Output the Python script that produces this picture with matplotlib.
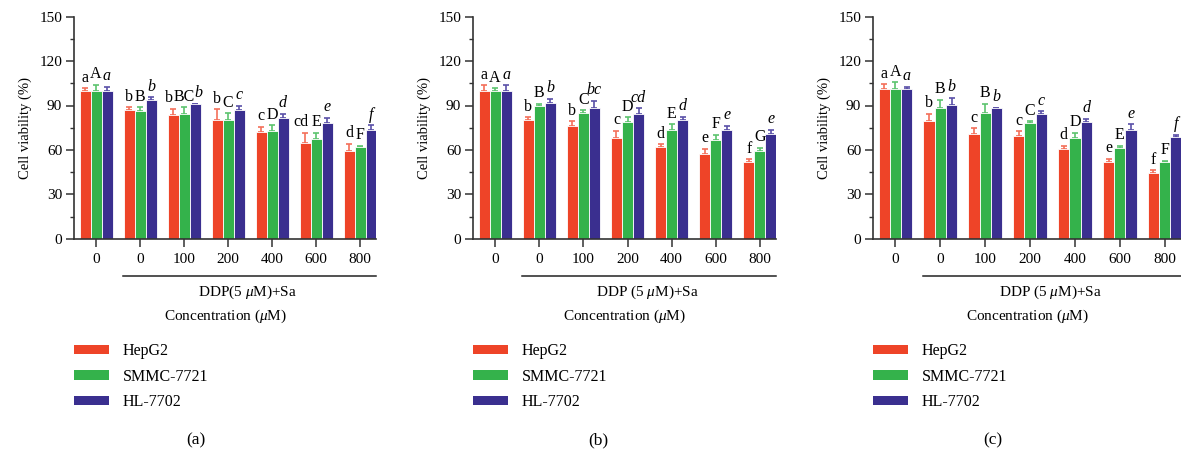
import numpy as np
import matplotlib.pyplot as plt
from matplotlib.patches import Patch
from matplotlib.ticker import MultipleLocator

plt.rcParams['font.family'] = ['Liberation Serif', 'DejaVu Serif']
plt.rcParams['mathtext.fontset'] = 'custom'
plt.rcParams['mathtext.it'] = 'Liberation Serif:italic'
plt.rcParams['mathtext.rm'] = 'Liberation Serif'

groups = ['0', '0', '100', '200', '400', '600', '800']
series = ['HepG2', 'SMMC-7721', 'HL-7702']
colors = ['#EE4428', '#34B24B', '#3A2F8F']
err_colors = ['#F4705A', '#5CC46E', '#5A50A8']

# panel (a)
a_mean = [
    [100, 87.0, 83.3, 80.4, 72.0, 64.6, 59.2],
    [100, 86.3, 84.2, 80.4, 72.7, 67.1, 61.7],
    [100, 93.7, 90.8, 87.0, 81.3, 78.2, 73.4],
]
a_err = [
    [1.6, 1.7, 4.5, 7.0, 3.7, 7.0, 4.8],
    [4.0, 2.4, 4.5, 4.3, 3.9, 4.5, 0.9],
    [2.7, 1.8, 0.4, 3.0, 3.2, 3.6, 3.2],
]
a_letters = [
    ['a', 'b', 'b', 'b', 'c', 'cd', 'd'],
    ['A', 'B', 'BC', 'C', 'D', 'E', 'F'],
    ['a', 'b', 'b', 'c', 'd', 'e', 'f'],
]

# panel (b)
b_mean = [
    [100, 80.2, 76.4, 68.2, 62.2, 57.4, 52.0],
    [100, 89.6, 85.1, 78.8, 73.4, 66.7, 59.5],
    [100, 91.4, 88.5, 84.2, 80.2, 73.4, 70.7],
]
b_err = [
    [3.6, 1.8, 2.9, 4.8, 1.5, 3.4, 1.6],
    [1.6, 1.4, 1.6, 3.2, 3.9, 3.6, 2.0],
    [3.6, 3.2, 4.7, 3.8, 2.2, 3.0, 2.7],
]
b_letters = [
    ['a', 'b', 'b', 'c', 'd', 'e', 'f'],
    ['A', 'B', 'C', 'D', 'E', 'F', 'G'],
    ['a', 'b', 'bc', 'cd', 'd', 'e', 'e'],
]

# panel (c)
c_mean = [
    [100.9, 79.5, 70.7, 69.4, 60.6, 51.8, 44.4],
    [100.9, 88.3, 84.7, 78.2, 68.0, 61.0, 52.0],
    [100.9, 90.3, 88.3, 84.2, 78.8, 73.4, 68.9],
]
c_err = [
    [3.4, 5.0, 3.8, 3.1, 2.2, 2.2, 1.8],
    [4.7, 5.4, 6.5, 1.1, 3.6, 1.8, 0.7],
    [1.8, 4.7, 0.3, 1.8, 2.2, 3.9, 1.4],
]
c_letters = [
    ['a', 'b', 'c', 'c', 'd', 'e', 'f'],
    ['A', 'B', 'B', 'C', 'D', 'E', 'F'],
    ['a', 'b', 'b', 'c', 'd', 'e', 'f'],
]

panels = [
    (a_mean, a_err, a_letters, 'DDP(5 $\\mathit{\\mu}$M)+Sa', '(a)', 74, 302, 196),
    (b_mean, b_err, b_letters, 'DDP (5 $\\mathit{\\mu}$M)+Sa', '(b)', 473, 303, 598),
    (c_mean, c_err, c_letters, 'DDP (5 $\\mathit{\\mu}$M)+Sa', '(c)', 873, 308, 993),
]

W, H = 1181, 451
fig = plt.figure(figsize=(W / 100, H / 100), dpi=100)

x = np.arange(len(groups))
bw = 0.25

for mean, err, letters, ddp_text, cap, left_px, width_px, cap_x in panels:
    ax = fig.add_axes([left_px / W, 1 - 238.7 / H, width_px / W, 222 / H])
    for i in range(3):
        pos = x + (i - 1) * bw
        ax.bar(pos, mean[i], width=bw, color=colors[i], edgecolor='white',
               linewidth=0.6, zorder=2)
        ax.errorbar(pos, mean[i], yerr=[np.zeros(len(groups)), err[i]], fmt='none',
                    ecolor=err_colors[i], elinewidth=1.2, capsize=2.5, capthick=1.2,
                    zorder=1)
        for j in range(len(groups)):
            # nudge labels apart where a neighbour has two letters
            dx = 0
            if i == 0 and (len(letters[0][j]) > 1 or len(letters[1][j]) > 1):
                dx = -3
            if i == 1 and len(letters[1][j]) > 1:
                dx = 0.5
            if i == 2 and len(letters[1][j]) > 1:
                dx = 2.5
            ax.annotate(letters[i][j], (pos[j], mean[i][j] + err[i][j]),
                        xytext=(dx, 2), textcoords='offset points',
                        ha='center', va='bottom', fontsize=11.5,
                        fontstyle='italic' if i == 2 else 'normal')

    ax.set_xlim(-0.5, 6 + 16 / 44)
    ax.set_ylim(0, 150)
    ax.yaxis.set_major_locator(MultipleLocator(30))
    ax.yaxis.set_minor_locator(MultipleLocator(15))
    ax.set_xticks(x)
    ax.set_xticklabels(groups)
    ax.spines['top'].set_visible(False)
    ax.spines['right'].set_visible(False)
    for s in ['left', 'bottom']:
        ax.spines[s].set_linewidth(1.2)
        ax.spines[s].set_color('#333333')
    ax.tick_params(axis='both', which='major', length=5.5, width=1.1,
                   color='#333333', labelsize=11)
    ax.tick_params(axis='x', pad=5)
    ax.tick_params(axis='y', pad=3)
    ax.tick_params(axis='y', which='minor', length=3, width=1.0, color='#333333')
    ax.set_ylabel('Cell viability (%)', fontsize=10.5, labelpad=5)

    tr = ax.get_xaxis_transform()
    ax.plot([0.61, 6 + 16 / 44], [-0.168, -0.168], transform=tr, color='#222222',
            lw=1.1, clip_on=False)
    ax.text(3.45, -0.24, ddp_text, transform=tr, ha='center', va='center',
            fontsize=11)
    ax.text(0.5, -0.351, 'Concentration ($\\mathit{\\mu}$M)', transform=ax.transAxes,
            ha='center', va='center', fontsize=11)

    handles = [Patch(facecolor=c, edgecolor='none') for c in colors]
    ax.legend(handles, series, loc='upper left', bbox_to_anchor=(0.0, -0.47),
              frameon=False, fontsize=11.5, handlelength=2.2, handleheight=0.5,
              handletextpad=0.85, labelspacing=0.6, borderpad=0, borderaxespad=0)

    fig.text(cap_x / W, 1 - 440 / H, cap, ha='center', va='center', fontsize=12.5)

fig.savefig('out.png', dpi=100)
